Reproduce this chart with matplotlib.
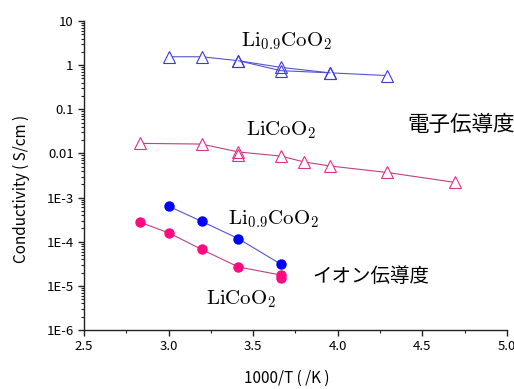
import matplotlib
matplotlib.use("Agg")
import matplotlib.pyplot as plt
from matplotlib.ticker import LogLocator, FixedLocator, MultipleLocator, NullFormatter

plt.rcParams['font.family'] = ['Noto Sans CJK JP', 'DejaVu Sans']
plt.rcParams['mathtext.fontset'] = 'cm'

# electronic conductivity, Li0.9CoO2 (open blue triangles)
x_e_li09 = [3.003, 3.195, 3.413, 3.663, 3.953, 4.292]
y_e_li09 = [1.55, 1.55, 1.26, 0.89, 0.67, 0.58]
x_e_li09_b = [3.413, 3.663, 3.953]
y_e_li09_b = [1.26, 0.75, 0.67]

# electronic conductivity, LiCoO2 (open pink triangles)
x_e_li = [2.833, 3.195, 3.413, 3.663, 3.802, 3.953, 4.292, 4.695]
y_e_li = [0.0169, 0.0163, 0.0108, 0.0087, 0.0064, 0.0052, 0.0037, 0.0022]
x_e_li_b = [3.413]
y_e_li_b = [0.0092]

# ionic conductivity, Li0.9CoO2 (filled blue circles)
x_i_li09 = [3.003, 3.195, 3.413, 3.663]
y_i_li09 = [6.3e-4, 2.9e-4, 1.17e-4, 3.1e-5]

# ionic conductivity, LiCoO2 (filled pink circles)
x_i_li = [2.833, 3.003, 3.195, 3.413, 3.663]
y_i_li = [2.75e-4, 1.57e-4, 6.7e-5, 2.67e-5, 1.76e-5]
x_i_li_b = [3.663]
y_i_li_b = [1.47e-5]

yticks = [1e-6, 1e-5, 1e-4, 1e-3, 0.01, 0.1, 1, 10]
ylabels = ["1E-6", "1E-5", "1E-4", "1E-3", "0.01", "0.1", "1", "10"]
xticks = [2.5, 3.0, 3.5, 4.0, 4.5, 5.0]

fig = plt.figure(figsize=(5.14, 3.89), dpi=100)
ax = fig.add_axes([0.1634, 0.1517, 0.823, 0.7943])

blue_line = "#5555cc"
pink_line = "#c04080"

ax.plot(x_e_li09, y_e_li09, color=blue_line, lw=0.8, marker="^", ms=8,
        mfc="white", mec="#3a3ae0", mew=0.8)
ax.plot(x_e_li09_b, y_e_li09_b, color=blue_line, lw=0.8, marker="^", ms=8,
        mfc="none", mec="#3a3ae0", mew=0.8)
ax.plot(x_e_li, y_e_li, color=pink_line, lw=0.8, marker="^", ms=8,
        mfc="white", mec="#e0308a", mew=0.8)
ax.plot(x_e_li_b, y_e_li_b, ls="none", marker="^", ms=8,
        mfc="none", mec="#e0308a", mew=0.8)
ax.plot(x_i_li09, y_i_li09, color=blue_line, lw=0.8, marker="o", ms=6.5,
        mfc="#0000ff", mec="#0000ff")
ax.plot(x_i_li, y_i_li, color=pink_line, lw=0.8, marker="o", ms=6.5,
        mfc="#ff0a80", mec="#ff0a80")
ax.plot(x_i_li_b, y_i_li_b, ls="none", marker="o", ms=6.5,
        mfc="#ff0a80", mec="#ff0a80")

ax.set_yscale("log")
ax.set_ylim(1e-6, 10)
ax.set_xlim(2.5, 5.0)
ax.yaxis.set_major_locator(FixedLocator(yticks))
ax.set_yticklabels(ylabels)
ax.yaxis.set_minor_locator(LogLocator(base=10, subs=range(2, 10), numticks=20))
ax.yaxis.set_minor_formatter(NullFormatter())
ax.set_xticks(xticks)
ax.set_xticklabels(["%.1f" % v for v in xticks])
ax.xaxis.set_minor_locator(MultipleLocator(0.25))

for s in ["top", "right"]:
    ax.spines[s].set_visible(False)
for s in ["left", "bottom"]:
    ax.spines[s].set_linewidth(1.0)
    ax.spines[s].set_color("#222222")
ax.tick_params(which="major", direction="out", length=4, width=1, labelsize=9.5, colors="#222222")
ax.tick_params(which="minor", direction="out", length=2.5, width=0.8, colors="#222222")
ax.tick_params(axis="both", labelcolor="black")

ax.set_ylabel("Conductivity ( S/cm )", fontsize=11)
ax.yaxis.set_label_coords(-0.128, 0.455)
ax.set_xlabel("1000/T ( /K )", fontsize=11)
ax.xaxis.set_label_coords(0.48, -0.13)

ax.text(3.43, 3.5, r"$\mathrm{Li_{0.9}CoO_2}$", fontsize=15, ha="left", va="center")
ax.text(3.46, 0.034, r"$\mathrm{LiCoO_2}$", fontsize=15, ha="left", va="center")
ax.text(3.35, 3.3e-4, r"$\mathrm{Li_{0.9}CoO_2}$", fontsize=15, ha="left", va="center")
ax.text(3.22, 5.0e-6, r"$\mathrm{LiCoO_2}$", fontsize=15, ha="left", va="center")
ax.text(4.411, 0.044, "電子伝導度", fontsize=15.5, ha="left", va="center")
ax.text(3.849, 1.67e-5, "イオン伝導度", fontsize=14, ha="left", va="center")

fig.savefig("out.png", dpi=100)
